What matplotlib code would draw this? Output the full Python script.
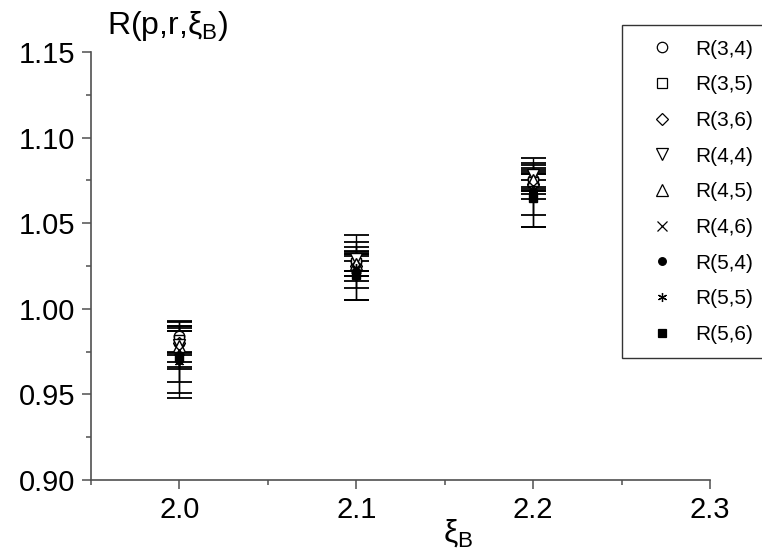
import matplotlib
matplotlib.use("Agg")
import matplotlib.pyplot as plt
from matplotlib.lines import Line2D
from matplotlib.ticker import MultipleLocator

plt.rcParams['font.family'] = ['Liberation Sans', 'DejaVu Sans']
plt.rcParams['mathtext.default'] = 'regular'

# xi_B values
xi = [2.0, 2.1, 2.2]

labels = ['R(3,4)', 'R(3,5)', 'R(3,6)', 'R(4,4)', 'R(4,5)', 'R(4,6)',
          'R(5,4)', 'R(5,5)', 'R(5,6)']

r34 = [0.984, 1.028, 1.076]
r35 = [0.982, 1.027, 1.074]
r36 = [0.980, 1.025, 1.073]
r44 = [0.979, 1.029, 1.078]
r45 = [0.978, 1.026, 1.075]
r46 = [0.976, 1.024, 1.072]
r54 = [0.970, 1.022, 1.068]
r55 = [0.969, 1.024, 1.066]
r56 = [0.972, 1.020, 1.065]

e34 = [0.009, 0.006, 0.006]
e35 = [0.008, 0.005, 0.005]
e36 = [0.007, 0.006, 0.006]
e44 = [0.010, 0.007, 0.007]
e45 = [0.012, 0.007, 0.006]
e46 = [0.011, 0.008, 0.008]
e54 = [0.022, 0.017, 0.020]
e55 = [0.018, 0.019, 0.018]
e56 = [0.015, 0.008, 0.010]

series = [r34, r35, r36, r44, r45, r46, r54, r55, r56]
errors = [e34, e35, e36, e44, e45, e46, e54, e55, e56]

# marker, size, filled
styles = [('o', 7.5, False), ('s', 7, False), ('D', 6.5, False),
          ('v', 8, False), ('^', 8, False), ('x', 7.5, False),
          ('o', 5.5, True), ((6, 2, 0), 6.5, False), ('s', 5.5, True)]

fig = plt.figure(figsize=(7.62, 5.57), dpi=100)
ax = fig.add_axes([91/762, 1 - 480/557, 619/762, 428/557])

handles = []
for y, e, (m, ms, filled), lab in zip(series, errors, styles, labels):
    fc = 'black' if filled else 'white'
    ax.errorbar(xi, y, yerr=e, fmt='none', ecolor='black', elinewidth=1.0,
                capsize=9, capthick=1.3, zorder=2)
    ax.plot(xi, y, linestyle='none', marker=m, markersize=ms,
            markerfacecolor=fc, markeredgecolor='black', markeredgewidth=1.0,
            zorder=3)
    handles.append(Line2D([], [], linestyle='none', marker=m, markersize=ms,
                          markerfacecolor=fc, markeredgecolor='black',
                          markeredgewidth=0.9, label=lab))

ax.set_xlim(1.95, 2.3)
ax.set_ylim(0.90, 1.15)
ax.xaxis.set_major_locator(MultipleLocator(0.1))
ax.xaxis.set_minor_locator(MultipleLocator(0.05))
ax.yaxis.set_major_locator(MultipleLocator(0.05))
ax.yaxis.set_minor_locator(MultipleLocator(0.025))
ax.xaxis.set_major_formatter(plt.FormatStrFormatter('%.1f'))
ax.yaxis.set_major_formatter(plt.FormatStrFormatter('%.2f'))

for s in ['top', 'right']:
    ax.spines[s].set_visible(False)
for s in ['left', 'bottom']:
    ax.spines[s].set_color('#505050')
    ax.spines[s].set_linewidth(1.2)

ax.tick_params(which='major', direction='out', length=6.5, width=1.1,
               color='#505050', labelsize=21, pad=5)
ax.tick_params(which='minor', direction='out', length=3.5, width=1.1,
               color='#505050')

fig.text(107/762, 1 - 34/557, r'R(p,r,ξ$_B$)', fontsize=23, va='baseline', ha='left')
fig.text(458/762, 1 - 542/557, r'ξ$_B$', fontsize=23, va='baseline', ha='center')

leg = fig.legend(handles=handles, loc='upper left',
                 bbox_to_anchor=(622/762, 1 - 25/557), fontsize=15,
                 frameon=True, fancybox=False, edgecolor='black',
                 handlelength=2.4, handletextpad=0.4, labelspacing=0.8,
                 borderpad=0.7, borderaxespad=0)
leg.get_frame().set_linewidth(1.0)

fig.savefig('out.png', dpi=100)
